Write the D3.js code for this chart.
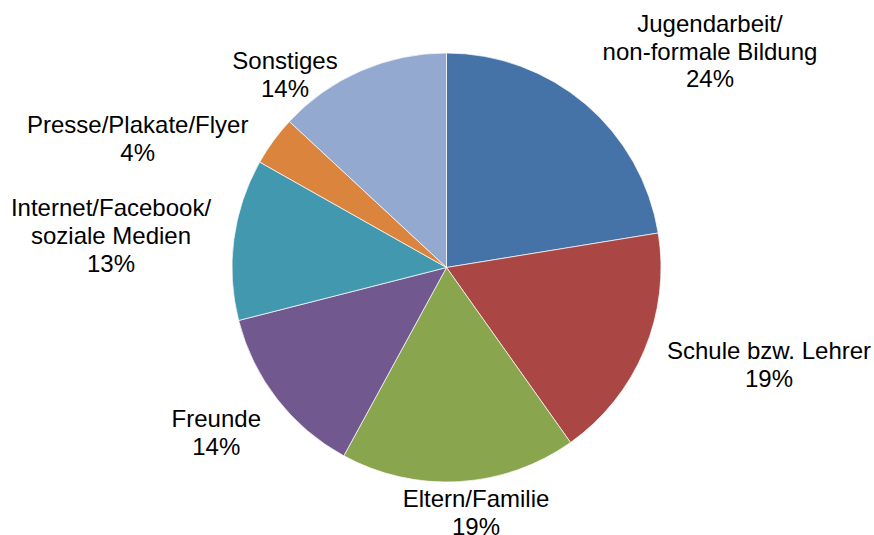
<!DOCTYPE html>
<html>
<head>
<meta charset="utf-8">
<script src="https://cdn.jsdelivr.net/npm/d3@7"></script>
<style>
  html, body { margin: 0; padding: 0; background: #fff; }
  text { font-family: "Liberation Sans", Arial, sans-serif; font-size: 24px; fill: #000; }
</style>
</head>
<body>
<div id="chart"></div>
<script>
const width = 874;
const height = 535;

// data
const categories = [
    ['Jugendarbeit/', 'non-formale Bildung'],
    ['Schule bzw. Lehrer'],
    ['Eltern/Familie'],
    ['Freunde'],
    ['Internet/Facebook/', 'soziale Medien'],
    ['Presse/Plakate/Flyer'],
    ['Sonstiges']
];
const percents = [24, 19, 19, 14, 13, 4, 14];
const colors = ['#4572A7', '#AA4643', '#89A54E', '#71588F', '#4198AF', '#DB843D', '#93A9CF'];

// label layout: centre x and first baseline y of each label block
const labelAt = [
    [710, 31.7], [769, 359.3], [476, 507.3], [216.3, 427.3],
    [111, 216], [137.7, 133.3], [285, 69.3]
];
const lineHeight = 27.8;

const cx = 446.5;
const cy = 267.5;
const radius = 214.5;

const svg = d3.select('#chart')
    .append('svg')
    .attr('width', width)
    .attr('height', height);

const pie = d3.pie()
    .value(d => d)
    .sort(null)
    .startAngle(0)
    .endAngle(2 * Math.PI);

const arc = d3.arc()
    .innerRadius(0)
    .outerRadius(radius);

const slices = svg.append('g')
    .attr('transform', `translate(${cx},${cy})`);

slices.selectAll('path')
    .data(pie(percents))
    .enter()
    .append('path')
    .attr('d', arc)
    .attr('fill', (d, i) => colors[i])
    .attr('stroke', '#fff')
    .attr('stroke-width', 0.7);

// labels
const labels = svg.append('g')
    .selectAll('text')
    .data(categories)
    .enter()
    .append('text')
    .attr('text-anchor', 'middle')
    .attr('x', (d, i) => labelAt[i][0])
    .attr('y', (d, i) => labelAt[i][1]);

labels.each(function (d, i) {
    const lines = d.concat([`${percents[i]}%`]);
    const t = d3.select(this);
    lines.forEach((line, j) => {
        t.append('tspan')
            .attr('x', labelAt[i][0])
            .attr('y', labelAt[i][1] + j * lineHeight)
            .text(line);
    });
});
</script>
</body>
</html>
